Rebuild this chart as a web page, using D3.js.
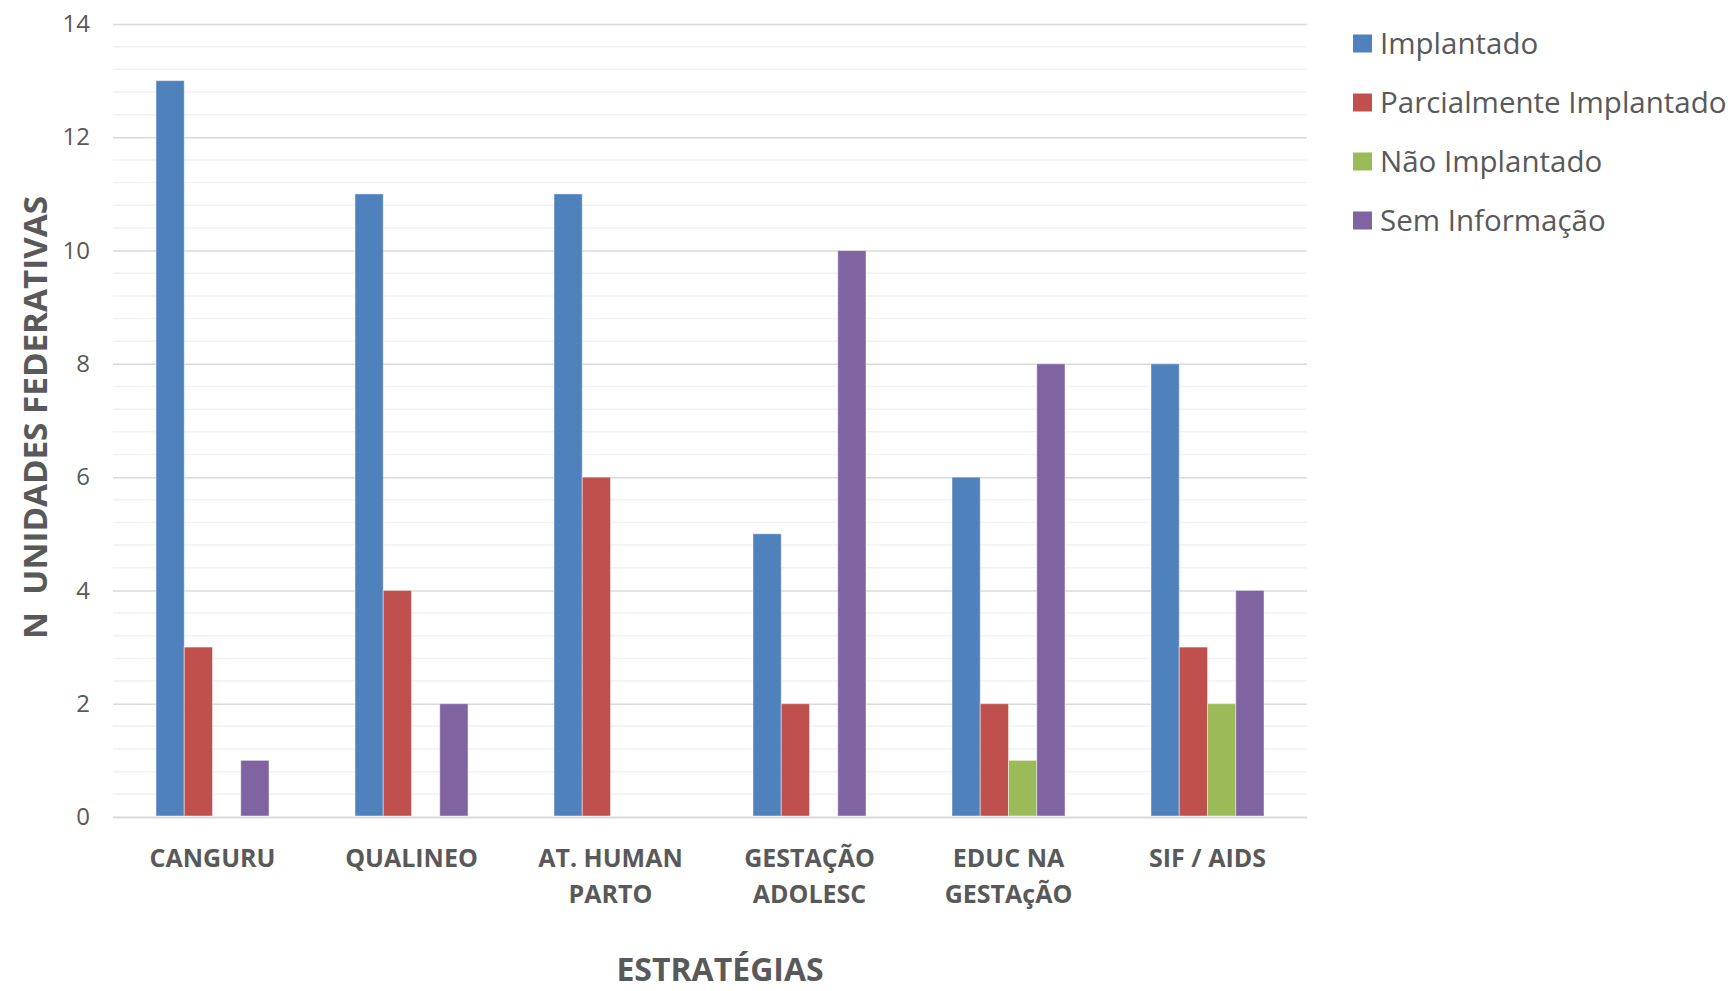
<!DOCTYPE html>
<html>
<head>
<meta charset="utf-8">
<script src="https://cdn.jsdelivr.net/npm/d3@7"></script>
<style>
  html, body { margin: 0; padding: 0; background: #fff; }
  svg { display: block; font-family: "Open Sans", sans-serif; }
</style>
</head>
<body>
<svg id="chart" width="1733" height="991"></svg>
<script>
const categories = ["CANGURU", "QUALINEO", "AT. HUMAN\nPARTO", "GESTAÇÃO\nADOLESC", "EDUC NA\nGESTAçÃO", "SIF / AIDS"];
const seriesNames = ["Implantado", "Parcialmente Implantado", "Não Implantado", "Sem Informação"];
const implantado = [13, 11, 11, 5, 6, 8];
const parcial = [3, 4, 6, 2, 2, 3];
const naoImplantado = [0, 0, 0, 0, 1, 2];
const semInformacao = [1, 2, 0, 10, 8, 4];
const colors = ["#4f81bd", "#c0504d", "#9bbb59", "#8064a2"];
const majorTicks = [0, 2, 4, 6, 8, 10, 12, 14];
const yTitle = "N  UNIDADES FEDERATIVAS";
const xTitle = "ESTRATÉGIAS";

const seriesValues = [implantado, parcial, naoImplantado, semInformacao];

(function () {
const svg = d3.select("#chart");
const pLeft = 113, pRight = 1307, pTop = 24, pBottom = 817;

const x = d3.scaleBand().domain(categories).range([pLeft, pRight]).paddingInner(0.432).paddingOuter(0.216);
const xs = d3.scaleBand().domain(seriesNames).range([0, x.bandwidth()]).padding(0);
const y = d3.scaleLinear().domain([0, 14]).range([pBottom, pTop]);

// minor gridlines
const minorTicks = d3.range(0, 14.0001, 0.4).filter(v => Math.abs(v / 2 - Math.round(v / 2)) > 1e-6);
svg.append("g").selectAll("line").data(minorTicks).join("line")
  .attr("x1", pLeft).attr("x2", pRight)
  .attr("y1", d => y(d)).attr("y2", d => y(d))
  .attr("stroke", "#f2f2f2").attr("stroke-width", 1.5);

// major gridlines via axis
const yAxis = d3.axisLeft(y).tickValues(majorTicks).tickSize(-(pRight - pLeft)).tickPadding(23);
const gy = svg.append("g").attr("transform", `translate(${pLeft},0)`).call(yAxis);
gy.select(".domain").remove();
gy.selectAll(".tick line").attr("stroke", d => d === 0 ? "#d9d9d9" : "#dadada").attr("stroke-width", d => d === 0 ? 2.2 : 1.5);
gy.selectAll(".tick text").attr("fill", "#595959").style("font-size", "24px").style("font-family", "'Open Sans', sans-serif");

// bars
const groups = svg.append("g").selectAll("g").data(categories).join("g")
  .attr("transform", d => `translate(${x(d)},0)`);
groups.selectAll("rect")
  .data((c, i) => seriesNames.map((s, j) => ({ s, j, v: seriesValues[j][i] })).filter(d => d.v > 0))
  .join("rect")
  .attr("x", d => xs(d.s))
  .attr("width", xs.bandwidth())
  .attr("y", d => y(d.v))
  .attr("height", d => y(0) - y(d.v) - 1)
  .attr("fill", d => colors[d.j])
  .attr("stroke", "rgba(255,255,255,0.45)")
  .attr("stroke-width", 1);

// x axis labels
const xl = svg.append("g");
categories.forEach(c => {
  const lines = c.split("\n");
  const t = xl.append("text")
    .attr("text-anchor", "middle")
    .attr("fill", "#595959")
    .style("font-size", "25px").style("font-weight", "bold");
  lines.forEach((ln, k) => {
    t.append("tspan").attr("x", x(c) + x.bandwidth() / 2).attr("y", 867 + k * 36).text(ln);
  });
});

// axis titles
svg.append("text")
  .attr("transform", `translate(47,${(195 + 640) / 2}) rotate(-90)`)
  .attr("text-anchor", "middle")
  .attr("fill", "#595959")
  .style("font-size", "33px").style("font-weight", "bold")
  .attr("textLength", 443).attr("lengthAdjust", "spacingAndGlyphs")
  .style("white-space", "pre")
  .text(yTitle);

svg.append("text")
  .attr("x", 720).attr("y", 981)
  .attr("text-anchor", "middle")
  .attr("fill", "#595959")
  .style("font-size", "32px").style("font-weight", "bold")
  .text(xTitle);

// legend
const lg = svg.append("g");
seriesNames.forEach((s, i) => {
  const cy = 43.5 + i * 59;
  lg.append("rect").attr("x", 1353).attr("y", cy - 9).attr("width", 19).attr("height", 18).attr("fill", colors[i]);
  lg.append("text").attr("x", 1380).attr("y", cy).attr("dy", "0.35em")
    .attr("fill", "#595959").style("font-size", "29.5px").text(s);
});
})();
</script>
</body>
</html>
